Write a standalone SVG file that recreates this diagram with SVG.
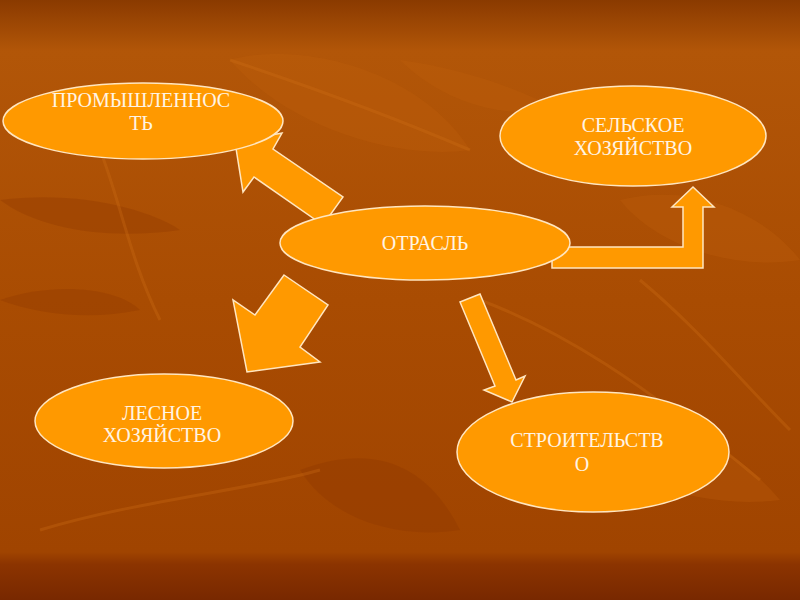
<svg xmlns="http://www.w3.org/2000/svg" width="800" height="600" viewBox="0 0 800 600">
<defs>
<linearGradient id="bg" x1="0" y1="0" x2="0" y2="1">
<stop offset="0" stop-color="#8a3a00"/>
<stop offset="0.085" stop-color="#b25608"/>
<stop offset="0.5" stop-color="#a94c02"/>
<stop offset="0.92" stop-color="#a04400"/>
<stop offset="0.94" stop-color="#8c3400"/>
<stop offset="1" stop-color="#782800"/>
</linearGradient>
<style>
.node ellipse{fill:#ff9900;stroke:#ffe6c0;stroke-width:1.5}
.node text{font-family:"Liberation Serif","Times New Roman",serif;font-size:20px;fill:#fff4e4;text-anchor:middle}
.arrow{fill:#ff9900;stroke:#ffe6c0;stroke-width:1.5;stroke-linejoin:miter}
.leaf{fill:#c0600e;opacity:0.3}
.leafd{fill:#8a3600;opacity:0.3}
.vein{stroke:#d07018;stroke-width:3;fill:none;opacity:0.3}
</style>
</defs>
<rect width="800" height="600" fill="url(#bg)"/>
<g id="background">
<path class="leaf" d="M230,60 C300,40 420,70 470,150 C400,160 290,130 230,60 Z"/>
<path class="leaf" d="M400,60 C470,70 520,90 560,110 C500,120 440,100 400,60 Z"/>
<path class="leafd" d="M0,300 C60,280 120,290 140,310 C90,320 40,315 0,300 Z"/>
<path class="leafd" d="M0,200 C80,190 150,210 180,230 C110,240 40,230 0,200 Z"/>
<path class="leaf" d="M560,420 C640,400 720,430 780,500 C700,510 610,480 560,420 Z"/>
<path class="leafd" d="M300,470 C380,440 430,470 460,530 C400,540 330,520 300,470 Z"/>
<path class="leaf" d="M620,200 C700,180 770,220 800,260 C740,270 660,250 620,200 Z"/>
<path class="vein" d="M230,60 C320,90 400,120 470,150"/>
<path class="vein" d="M480,300 C560,330 640,380 760,480"/>
<path class="vein" d="M40,530 C140,500 250,490 320,470"/>
<path class="vein" d="M100,150 C120,200 130,260 160,320"/>
<path class="vein" d="M640,280 C700,330 740,380 790,430"/>
</g>
<g id="connectors">
<polygon id="arrow-industry" class="arrow" points="235,142 282,133 273,149 343,197 323,225 254,177 243,192"/>
<polygon id="arrow-forestry" class="arrow" points="284,275 328,305 300,347 320,362 247,372 233,300 255,315"/>
<polygon id="arrow-construction" class="arrow" points="460,302 480,294 516,380 525,376 512,402 484,390 495,386"/>
<polygon id="arrow-agriculture" class="arrow" points="552,247 683,247 683,207 672,207 693,187 714,207 703,207 703,268 552,268"/>
</g>
<g id="node-industry" class="node">
<ellipse cx="143" cy="121" rx="140" ry="38"/>
<text x="141" y="107">ПРОМЫШЛЕННОС</text>
<text x="141" y="130">ТЬ</text>
</g>
<g id="node-agriculture" class="node">
<ellipse cx="633" cy="136" rx="133" ry="50"/>
<text x="633" y="132">СЕЛЬСКОЕ</text>
<text x="633" y="155">ХОЗЯЙСТВО</text>
</g>
<g id="node-branch" class="node">
<ellipse cx="425" cy="243" rx="145" ry="37"/>
<text x="425" y="250">ОТРАСЛЬ</text>
</g>
<g id="node-forestry" class="node">
<ellipse cx="164" cy="421" rx="129" ry="47"/>
<text x="162" y="420">ЛЕСНОЕ</text>
<text x="162" y="442">ХОЗЯЙСТВО</text>
</g>
<g id="node-construction" class="node">
<ellipse cx="593" cy="452" rx="136" ry="60"/>
<text x="587" y="447">СТРОИТЕЛЬСТВ</text>
<text x="582" y="471">О</text>
</g>
</svg>
